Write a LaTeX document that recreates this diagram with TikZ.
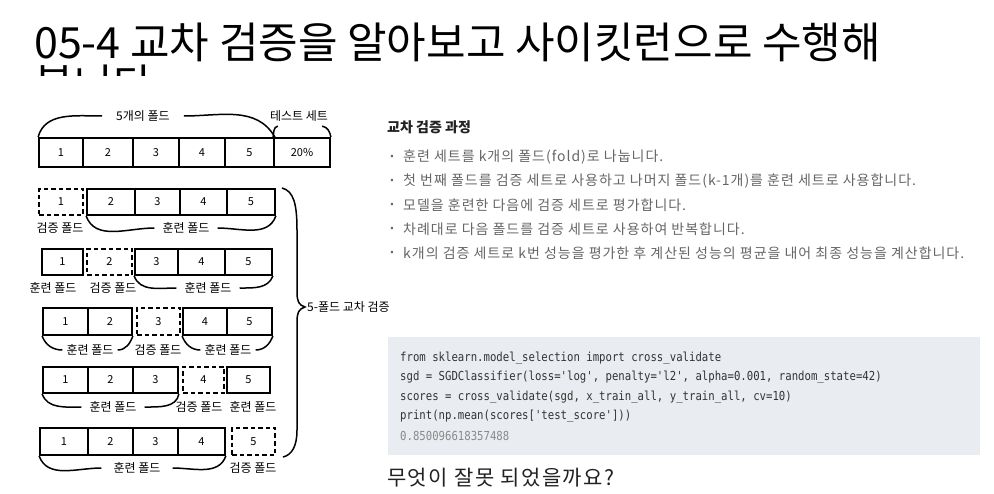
\documentclass[tikz,border=0pt]{standalone}
\usepackage{fontspec}
\setmainfont{Noto Sans CJK KR}
\newfontfamily\krfont{Noto Sans CJK KR}
\newfontfamily\krwide[LetterSpace=7]{Noto Sans CJK KR}
\setmonofont[FakeStretch=0.86]{DejaVu Sans Mono}
\definecolor{bodygray}{HTML}{666666}
\definecolor{darktxt}{HTML}{222222}
\definecolor{codebg}{HTML}{E9ECF1}
\definecolor{codetxt}{HTML}{333333}
\definecolor{outtxt}{HTML}{8A8A8A}
\begin{document}
\begin{tikzpicture}[x=1pt,y=-1pt,
  cell/.style={draw, line width=1.8pt, inner sep=0pt, font=\krfont\fontsize{11}{11}\selectfont},
  dcell/.style={cell, dash pattern=on 4.5pt off 3pt},
  lab/.style={inner ysep=2.5pt, inner xsep=8pt, font=\krfont\fontsize{12}{12}\selectfont},
  brace/.style={line width=1.5pt},
  bul/.style={anchor=west, inner sep=0pt, text=bodygray, font=\krwide\fontsize{14}{15}\selectfont},
  dot/.style={inner sep=0pt, text=bodygray, font=\krfont\fontsize{10}{10}\selectfont},
  code/.style={anchor=west, inner sep=0pt, text=codetxt, font=\ttfamily\fontsize{12.4}{14}\selectfont}
]
\useasboundingbox (0,0) rectangle (994,494);
\fill[white] (0,0) rectangle (994,494);

% title
\node[anchor=base west, inner sep=0pt, font=\krfont\fontsize{43}{46}\selectfont] (title1) at (34,59) {05-4 교차 검증을 알아보고 사이킷런으로 수행해};
\begin{scope}
\clip (0,0) rectangle (994,76);
\node[anchor=base west, inner sep=0pt, font=\krfont\fontsize{43}{46}\selectfont] (title2) at (34,101) {봅니다};
\end{scope}

% row 1
\node[cell, minimum width=44pt, minimum height=29pt] (a1) at (61,152.5) {1};
\node[cell, minimum width=50pt, minimum height=29pt] (a2) at (108,152.5) {2};
\node[cell, minimum width=46pt, minimum height=29pt] (a3) at (156,152.5) {3};
\node[cell, minimum width=46pt, minimum height=29pt] (a4) at (202,152.5) {4};
\node[cell, minimum width=49pt, minimum height=29pt] (a5) at (249.5,152.5) {5};
\node[cell, minimum width=56pt, minimum height=29pt] (a6) at (302,152.5) {20\%};
\node[lab, inner xsep=14pt] (l1a) at (143,116) {5개의 폴드};
\node[lab, inner xsep=2pt] (l1b) at (299,116) {테스트 세트};
\draw[brace] (a1.north west) to[out=75,in=180] (l1a.west);
\draw[brace] (l1a.east) to[out=0,in=120] (a5.north east);
\draw[brace] (a6.north west) to[out=80,in=190] ([xshift=10pt,yshift=-2pt]l1b.south west);
\draw[brace] ([xshift=-8pt,yshift=-2pt]l1b.south east) to[out=-10,in=100] (a6.north east);

% row 2
\node[dcell, minimum width=44pt, minimum height=26pt] (b1) at (61,202) {1};
\node[cell, minimum width=48pt, minimum height=26pt] (b2) at (111,202) {2};
\node[cell, minimum width=45pt, minimum height=26pt] (b3) at (157.5,202) {3};
\node[cell, minimum width=47pt, minimum height=26pt] (b4) at (203.5,202) {4};
\node[cell, minimum width=48pt, minimum height=26pt] (b5) at (251,202) {5};
\node[lab] (l2a) at (60,228) {검증 폴드};
\node[lab] (l2b) at (186,228) {훈련 폴드};
\draw[brace] (b2.south west) to[out=-70,in=180] (l2b.west);
\draw[brace] (l2b.east) to[out=0,in=-110] (b5.south east);

% row 3
\node[cell, minimum width=41pt, minimum height=26pt] (c1) at (62.5,262) {1};
\node[dcell, minimum width=45pt, minimum height=26pt] (c2) at (109.5,262) {2};
\node[cell, minimum width=43pt, minimum height=26pt] (c3) at (156.5,262) {3};
\node[cell, minimum width=47pt, minimum height=26pt] (c4) at (201.5,262) {4};
\node[cell, minimum width=47pt, minimum height=26pt] (c5) at (248.5,262) {5};
\node[lab] (l3a) at (53,288) {훈련 폴드};
\node[lab] (l3b) at (113,288) {검증 폴드};
\node[lab] (l3c) at (208,288) {훈련 폴드};
\draw[brace] (c3.south west) to[out=-70,in=180] (l3c.west);
\draw[brace] (l3c.east) to[out=0,in=-110] (c5.south east);

% row 4
\node[cell, minimum width=45pt, minimum height=27pt] (d1) at (65.5,321.5) {1};
\node[cell, minimum width=44pt, minimum height=27pt] (d2) at (110,321.5) {2};
\node[dcell, minimum width=43pt, minimum height=27pt] (d3) at (158.5,321.5) {3};
\node[cell, minimum width=44pt, minimum height=27pt] (d4) at (205,321.5) {4};
\node[cell, minimum width=45pt, minimum height=27pt] (d5) at (249.5,321.5) {5};
\node[lab, inner xsep=4pt] (l4a) at (90,350) {훈련 폴드};
\node[lab] (l4b) at (158,350) {검증 폴드};
\node[lab, inner xsep=4pt] (l4c) at (228,350) {훈련 폴드};
\draw[brace] (d1.south west) to[out=-70,in=180] (l4a.west);
\draw[brace] (l4a.east) to[out=0,in=-110] (d2.south east);
\draw[brace] (d4.south west) to[out=-70,in=180] (l4c.west);
\draw[brace] (l4c.east) to[out=0,in=-110] (d5.south east);

% row 5
\node[cell, minimum width=45pt, minimum height=26pt] (e1) at (65.5,380) {1};
\node[cell, minimum width=45pt, minimum height=26pt] (e2) at (110.5,380) {2};
\node[cell, minimum width=45pt, minimum height=26pt] (e3) at (155.5,380) {3};
\node[dcell, minimum width=41pt, minimum height=26pt] (e4) at (203.5,380) {4};
\node[cell, minimum width=43pt, minimum height=26pt] (e5) at (248.5,380) {5};
\node[lab] (l5a) at (113,407) {훈련 폴드};
\node[lab] (l5b) at (199,407) {검증 폴드};
\node[lab] (l5c) at (253,407) {훈련 폴드};
\draw[brace] (e1.south west) to[out=-70,in=180] (l5a.west);
\draw[brace] (l5a.east) to[out=0,in=-100] (e3.south east);

% row 6
\node[cell, minimum width=48pt, minimum height=27pt] (f1) at (64,441.5) {1};
\node[cell, minimum width=45pt, minimum height=27pt] (f2) at (110.5,441.5) {2};
\node[cell, minimum width=45pt, minimum height=27pt] (f3) at (155.5,441.5) {3};
\node[cell, minimum width=47pt, minimum height=27pt] (f4) at (201.5,441.5) {4};
\node[dcell, minimum width=43pt, minimum height=27pt] (f5) at (253.5,441.5) {5};
\node[lab, inner xsep=12pt] (l6a) at (137,468) {훈련 폴드};
\node[lab] (l6b) at (253,468) {검증 폴드};
\draw[brace] (f1.south west) to[out=-70,in=180] (l6a.west);
\draw[brace] (l6a.east) to[out=0,in=-110] (f4.south east);

% big brace
\node[lab, anchor=west, inner xsep=2pt] (bigl) at (305,307) {5-폴드 교차 검증};
\coordinate (bt) at (282,188);
\coordinate (bb) at (283,457);
\draw[brace] (bt) .. controls (294,191) and (297,205) .. (297,230)
  -- (297,292) .. controls (297,302) and (299,305) .. (bigl.west)
  .. controls (299,309) and (297,312) .. (297,322)
  -- (297,430) .. controls (297,446) and (292,455) .. (bb);

% right text
\node[anchor=west, inner sep=0pt, text=darktxt, font=\krfont\bfseries\fontsize{14}{15}\selectfont] (h) at (387,127) {교차 검증 과정};
\node[dot] (d1b) at (392,157) {•};
\node[dot] (d2b) at (392,181) {•};
\node[dot] (d3b) at (392,205) {•};
\node[dot] (d4b) at (392,229) {•};
\node[dot] (d5b) at (392,253) {•};
\node[bul] (t1) at (403,157) {훈련 세트를 k개의 폴드(fold)로 나눕니다.};
\node[bul] (t2) at (403,181) {첫 번째 폴드를 검증 세트로 사용하고 나머지 폴드(k-1개)를 훈련 세트로 사용합니다.};
\node[bul] (t3) at (403,205) {모델을 훈련한 다음에 검증 세트로 평가합니다.};
\node[bul] (t4) at (403,229) {차례대로 다음 폴드를 검증 세트로 사용하여 반복합니다.};
\node[bul] (t5) at (403,253) {k개의 검증 세트로 k번 성능을 평가한 후 계산된 성능의 평균을 내어 최종 성능을 계산합니다.};

% code block
\fill[codebg] (388,337) rectangle (980,455);
\node[code] (k1) at (400,358) {from sklearn.model\_selection import cross\_validate};
\node[code] (k2) at (400,377.5) {sgd = SGDClassifier(loss='log', penalty='l2', alpha=0.001, random\_state=42)};
\node[code] (k3) at (400,397) {scores = cross\_validate(sgd, x\_train\_all, y\_train\_all, cv=10)};
\node[code] (k4) at (400,416.5) {print(np.mean(scores['test\_score']))};
\node[code, text=outtxt] (k5) at (400,436) {0.850096618357488};

\node[anchor=west, inner sep=0pt, text=darktxt, font=\krwide\fontsize{21}{23}\selectfont] (q) at (387,478) {무엇이 잘못 되었을까요?};
\end{tikzpicture}
\end{document}
